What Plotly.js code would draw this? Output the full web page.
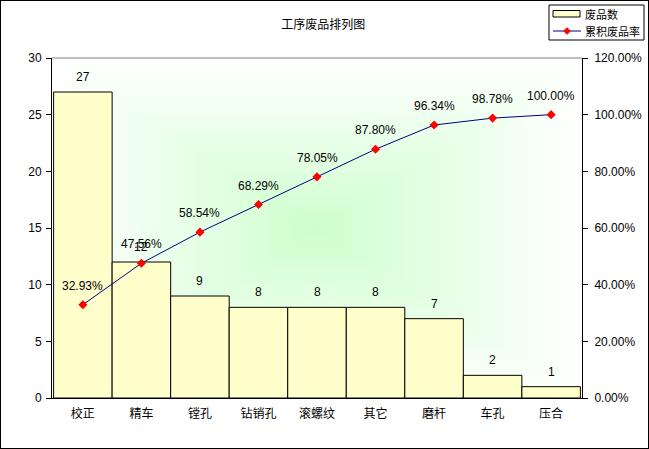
<!DOCTYPE html>
<html>
<head>
<meta charset="utf-8">
<script src="https://cdn.plot.ly/plotly-3.0.1.min.js"></script>
<style>
html,body{margin:0;padding:0;background:#fff;}
#wrap{position:relative;width:649px;height:449px;}
#chart{width:649px;height:449px;}
#frame{position:absolute;left:0;top:0;width:649px;height:449px;box-sizing:border-box;border:1px solid #000;pointer-events:none;}
</style>
</head>
<body>
<div id="wrap"><div id="chart"></div><div id="frame"></div></div>
<script>
var categories = ["校正","精车","镗孔","钻销孔","滚螺纹","其它","磨杆","车孔","压合"];
var defects = [27, 12, 9, 8, 8, 8, 7, 2, 1];
var cumRate = [32.93, 47.56, 58.54, 68.29, 78.05, 87.80, 96.34, 98.78, 100.00];
var leftTicks = [0, 5, 10, 15, 20, 25, 30];
var rightTicks = [0, 20, 40, 60, 80, 100, 120];
var seriesNames = ['废品数', '累积废品率'];

var W = 649, H = 449, ML = 52, MR = 67, MT = 58, MB = 51;
var PW = W - ML - MR, PH = H - MT - MB;
function px(x) { return (x - ML) / PW; }
function py(y) { return (H - MB - y) / PH; }

// rectangular "from center" gradient for the plot area
function makeGradient(w, h) {
  var c = document.createElement('canvas');
  c.width = w; c.height = h;
  var ctx = c.getContext('2d');
  var img = ctx.createImageData(w, h);
  var cx = w / 2, cy = h / 2;
  var c0 = [204, 255, 204], c1 = [255, 255, 255];
  for (var y = 0; y < h; y++) {
    for (var x = 0; x < w; x++) {
      var t = Math.max(Math.abs(x - cx) / cx, Math.abs(y - cy) / cy);
      t = Math.min(1, Math.pow(t, 0.9));
      var i = (y * w + x) * 4;
      img.data[i] = c0[0] + (c1[0] - c0[0]) * t;
      img.data[i+1] = c0[1] + (c1[1] - c0[1]) * t;
      img.data[i+2] = c0[2] + (c1[2] - c0[2]) * t;
      img.data[i+3] = 255;
    }
  }
  ctx.putImageData(img, 0, 0);
  return c.toDataURL('image/png');
}

var font = "Liberation Sans, Arial, Noto Sans CJK SC, sans-serif";
var cjk = "Noto Sans CJK SC, Liberation Sans, sans-serif";

var bars = {
  type: 'bar', name: seriesNames[0], x: categories, y: defects,
  marker: {color: '#ffffcc', line: {color: '#000000', width: 1}},
  hoverinfo: 'none'
};
var line = {
  type: 'scatter', mode: 'lines+markers', name: seriesNames[1],
  x: categories, y: cumRate, yaxis: 'y2',
  line: {color: '#000080', width: 1},
  marker: {color: '#ff0000', symbol: 'diamond', size: 7},
  hoverinfo: 'none'
};

var annotations = [];
categories.forEach(function (c, i) {
  annotations.push({x: c, y: defects[i], xref: 'x', yref: 'y', text: String(defects[i]),
    showarrow: false, yanchor: 'bottom', yshift: 6, font: {family: font, size: 12, color: '#000'}});
  annotations.push({x: c, y: cumRate[i], xref: 'x', yref: 'y2', text: cumRate[i].toFixed(2) + '%',
    showarrow: false, yanchor: 'bottom', yshift: 10, font: {family: font, size: 12, color: '#000'}});
});

// manual legend (drawn outside the plot area without pushing the margins)
var shapes = [
  {type: 'line', xref: 'paper', yref: 'paper', x0: 0, x1: 1, y0: 1, y1: 1,
   line: {color: '#808080', width: 1}},
  {type: 'rect', xref: 'paper', yref: 'paper', x0: px(549), x1: px(644), y0: py(40), y1: py(5),
   fillcolor: '#ffffff', line: {color: '#000000', width: 1}},
  {type: 'rect', xref: 'paper', yref: 'paper', x0: px(553), x1: px(580), y0: py(17), y1: py(10.5),
   fillcolor: '#ffffcc', line: {color: '#000000', width: 1}},
  {type: 'line', xref: 'paper', yref: 'paper', x0: px(553), x1: px(581), y0: py(31), y1: py(31),
   line: {color: '#000080', width: 1}},
  {type: 'path', xref: 'paper', yref: 'paper',
   path: 'M ' + px(567) + ' ' + py(27.5) + ' L ' + px(570.5) + ' ' + py(31) + ' L ' + px(567) + ' ' + py(34.5) +
         ' L ' + px(563.5) + ' ' + py(31) + ' Z',
   fillcolor: '#ff0000', line: {color: '#ff0000', width: 0.5}}
];
annotations.push({xref: 'paper', yref: 'paper', x: px(583), y: py(13.5), xanchor: 'left', yanchor: 'middle',
  text: seriesNames[0], showarrow: false, font: {family: cjk, size: 11, color: '#000'}});
annotations.push({xref: 'paper', yref: 'paper', x: px(583), y: py(31), xanchor: 'left', yanchor: 'middle',
  text: seriesNames[1], showarrow: false, font: {family: cjk, size: 11, color: '#000'}});

var layout = {
  width: W, height: H,
  margin: {l: ML, r: MR, t: MT, b: MB, pad: 0},
  paper_bgcolor: '#ffffff', plot_bgcolor: 'rgba(0,0,0,0)',
  title: {text: '工序废品排列图', font: {family: cjk, size: 12, color: '#000'},
          x: 0.498, xanchor: 'center', y: 0.945, yanchor: 'middle'},
  bargap: 0,
  showlegend: false,
  xaxis: {type: 'category', showgrid: false, zeroline: false, showline: true,
          linecolor: '#000', linewidth: 1, ticks: '', tickfont: {family: cjk, size: 12, color: '#000'},
          ticklabelstandoff: 5, fixedrange: true, automargin: false},
  yaxis: {range: [0, 30], tickvals: leftTicks, ticktext: leftTicks.map(String),
          showgrid: false, zeroline: false, showline: true, linecolor: '#000', linewidth: 1,
          ticks: 'outside', ticklen: 5, tickcolor: '#000', automargin: false,
          ticklabelstandoff: 2,
          tickfont: {family: font, size: 12, color: '#000'}, fixedrange: true},
  yaxis2: {overlaying: 'y', side: 'right', range: [0, 120], tickvals: rightTicks,
           ticktext: rightTicks.map(function (v) { return v.toFixed(2) + '%'; }),
           showgrid: false, zeroline: false, showline: true, linecolor: '#000', linewidth: 1,
           ticks: 'outside', ticklen: 5, tickcolor: '#000', automargin: false,
           ticklabelstandoff: 4,
           tickfont: {family: font, size: 12, color: '#000'}, fixedrange: true},
  shapes: shapes,
  images: [{source: makeGradient(PW, PH), xref: 'paper', yref: 'paper',
            x: 0, y: 1, sizex: 1, sizey: 1, sizing: 'stretch', layer: 'below',
            xanchor: 'left', yanchor: 'top'}],
  annotations: annotations
};

Plotly.newPlot('chart', [bars, line], layout, {displayModeBar: false, staticPlot: true});
</script>
</body>
</html>
